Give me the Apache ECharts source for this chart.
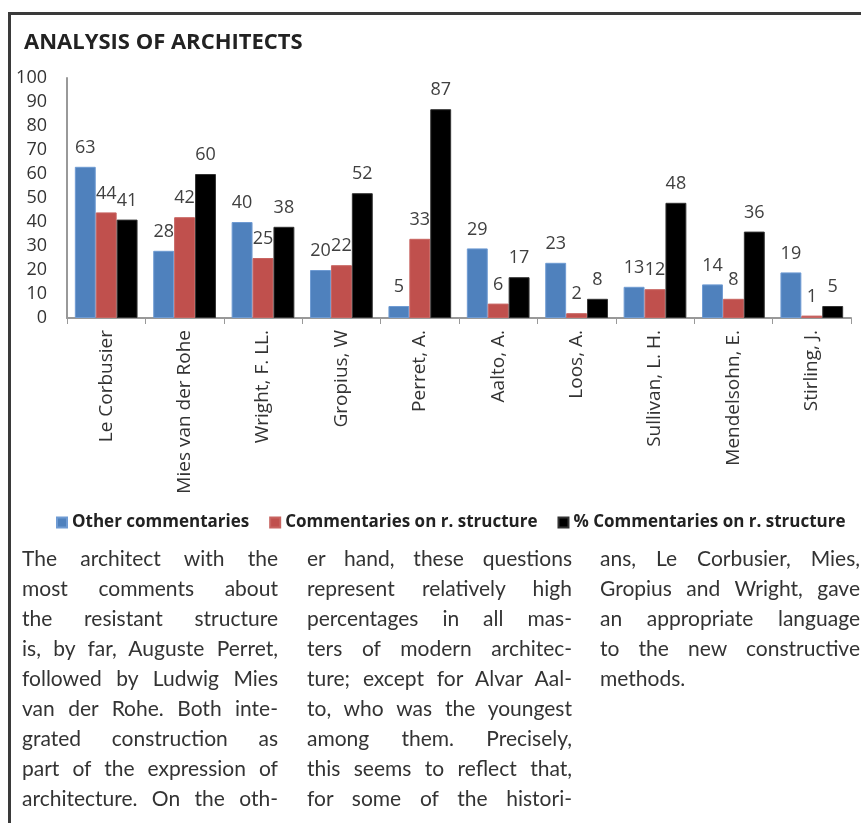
<!DOCTYPE html>
<html>
<head>
<meta charset="utf-8">
<script src="https://cdn.jsdelivr.net/npm/echarts@6/dist/echarts.min.js"></script>
<style>
  body { margin:0; background:#fff; overflow:hidden; width:861px; height:823px; }
  #frame { position:absolute; left:8px; top:12px; width:900px; height:900px;
           border-left:3px solid #3a3a3a; border-top:3px solid #3a3a3a; }
  #chart { position:absolute; left:0; top:0; width:861px; height:545px; }
  .col { position:absolute; top:543px; font-family:'Lato', sans-serif; font-size:21px;
         color:#333; }
  .col div { height:30px; line-height:30px; white-space:nowrap;
             text-align:justify; text-align-last:justify; }
  .col div.last { text-align-last:left; }
</style>
</head>
<body>
<div id="frame"></div>
<div id="chart"></div>
<div class="col" style="left:22px;width:256px">
  <div>The architect with the</div>
  <div>most comments about</div>
  <div>the resistant structure</div>
  <div>is, by far, Auguste Perret,</div>
  <div>followed by Ludwig Mies</div>
  <div>van der Rohe. Both inte-</div>
  <div>grated construction as</div>
  <div>part of the expression of</div>
  <div>architecture. On the oth-</div>
</div>
<div class="col" style="left:307px;width:265px">
  <div>er hand, these questions</div>
  <div>represent relatively high</div>
  <div>percentages in all mas-</div>
  <div>ters of modern architec-</div>
  <div>ture; except for Alvar Aal-</div>
  <div>to, who was the youngest</div>
  <div>among them. Precisely,</div>
  <div>this seems to reflect that,</div>
  <div>for some of the histori-</div>
</div>
<div class="col" style="left:600px;width:260px">
  <div>ans, Le Corbusier, Mies,</div>
  <div>Gropius and Wright, gave</div>
  <div>an appropriate language</div>
  <div>to the new constructive</div>
  <div class="last">methods.</div>
</div>
<script>
var architects = ['Le Corbusier', 'Mies van der Rohe', 'Wright, F. LL.', 'Gropius, W', 'Perret, A.',
                  'Aalto, A.', 'Loos, A.', 'Sullivan, L. H.', 'Mendelsohn, E.', 'Stirling, J.'];
var otherComments = [63, 28, 40, 20, 5, 29, 23, 13, 14, 19];
var structureComments = [44, 42, 25, 22, 33, 6, 2, 12, 8, 1];
var structurePercent = [41, 60, 38, 52, 87, 17, 8, 48, 36, 5];
var seriesNames = ['Other commentaries', 'Commentaries on r. structure', '% Commentaries on r. structure'];

var font = 'Open Sans';
var labelStyle = { show:true, position:'top', distance:10, fontSize:18, color:'#404040', fontFamily:font };

function makeSeries(name, data, color, border) {
  return {
    name: name, type: 'bar', data: data,
    barGap: '0%', barCategoryGap: '20%',
    itemStyle: { color: color, borderColor: border, borderWidth: 1 },
    label: labelStyle
  };
}

var option = {
  animation: false,
  color: ['#4F81BD', '#C0504D', '#000000'],
  title: {
    text: 'ANALYSIS OF ARCHITECTS', left: 19, top: 27,
    textStyle: { fontSize: 22, fontWeight: 'bold', color: '#222', fontFamily: font }
  },
  legend: {
    left: 51, top: 509, icon: 'rect', itemWidth: 10, itemHeight: 10, itemGap: 20,
    textStyle: { fontSize: 17, fontWeight: 'bold', color: '#222', fontFamily: font },
    data: seriesNames
  },
  grid: { left: 67, right: 10, top: 78, bottom: 545 - 318 },
  xAxis: {
    type: 'category', data: architects,
    axisLine: { lineStyle: { color: '#999', width: 2 } },
    axisTick: { show: true, length: 6, lineStyle: { color: '#999' } },
    axisLabel: { rotate: 90, margin: 12, fontSize: 19, color: '#333', fontFamily: font, interval: 0 }
  },
  yAxis: {
    type: 'value', min: 0, max: 100, interval: 10,
    axisLine: { show: true, lineStyle: { color: '#999', width: 2 } },
    axisTick: { show: false },
    splitLine: { show: false },
    axisLabel: { margin: 20, fontSize: 18, color: '#333', fontFamily: font }
  },
  series: [
    makeSeries(seriesNames[0], otherComments, '#4F81BD', '#6f9bd3'),
    makeSeries(seriesNames[1], structureComments, '#C0504D', '#c86461'),
    makeSeries(seriesNames[2], structurePercent, '#000000', '#333')
  ]
};

var myChart = echarts.init(document.getElementById('chart'));
myChart.setOption(option);
</script>
</body>
</html>
